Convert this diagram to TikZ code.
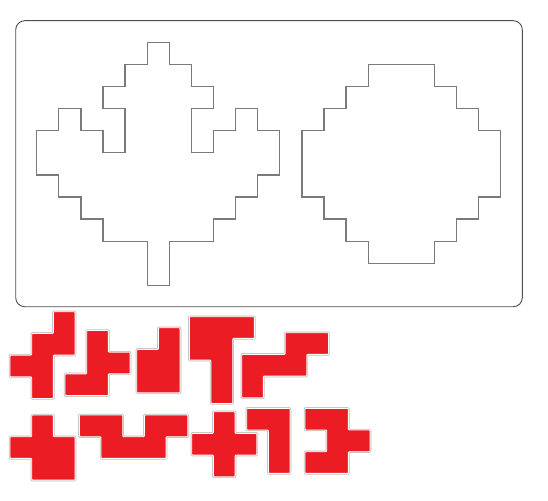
\documentclass[tikz,border=0pt]{standalone}
\usepackage{xcolor}
\usepackage{tikz}

\definecolor{pieceRed}{HTML}{EC1C24}
\definecolor{cutGray}{HTML}{7A7A7A}

\begin{document}
\begin{tikzpicture}[x=1pt, y=-1pt,
        board/.style={draw=black!70, line width=0.9pt, rounded corners=9pt},
        cutline/.style={draw=cutGray, line width=1.3pt},
        piece/.style={fill=pieceRed, draw=white, line width=0.9pt, rounded corners=0.8pt,
            preaction={draw=black!25, line width=2.4pt, rounded corners=0.8pt}}]
    \useasboundingbox (0,0) rectangle (548,500);

    % board
    \draw[board] (15.7,20.7) rectangle (522.3,306.7);

    % leaf and round shape, on a grid of 22.1
    \begin{scope}[shift={(36.7,42.3)}, x=22.1pt, y=-22.1pt]
        \draw[cutline] (5,0) -- (6,0) -- (6,1) -- (7,1) -- (7,2) -- (8,2) -- (8,3) -- (7,3)
            -- (7,5) -- (8,5) -- (8,4) -- (9,4) -- (9,3) -- (10,3) -- (10,4) -- (11,4)
            -- (11,6) -- (10,6) -- (10,7) -- (9,7) -- (9,8) -- (8,8) -- (8,9) -- (6,9)
            -- (6,11) -- (5,11) -- (5,9) -- (3,9) -- (3,8) -- (2,8) -- (2,7) -- (1,7)
            -- (1,6) -- (0,6) -- (0,4) -- (1,4) -- (1,3) -- (2,3) -- (2,4) -- (3,4)
            -- (3,5) -- (4,5) -- (4,3) -- (3,3) -- (3,2) -- (4,2) -- (4,1) -- (5,1) -- cycle;
        \draw[cutline] (15,1) -- (18,1) -- (18,2) -- (19,2) -- (19,3) -- (20,3) -- (20,4)
            -- (21,4) -- (21,7) -- (20,7) -- (20,8) -- (19,8) -- (19,9) -- (18,9) -- (18,10)
            -- (15,10) -- (15,9) -- (14,9) -- (14,8) -- (13,8) -- (13,7) -- (12,7) -- (12,4)
            -- (13,4) -- (13,3) -- (14,3) -- (14,2) -- (15,2) -- cycle;
    \end{scope}

    % pieces, top row
    \begin{scope}[shift={(10,311.7)}, x=21.7pt, y=-21.7pt]
        \draw[piece] (2,0) -- (3,0) -- (3,2) -- (2,2) -- (2,4) -- (1,4) -- (1,3) -- (0,3)
            -- (0,2) -- (1,2) -- (1,1) -- (2,1) -- cycle;
    \end{scope}
    \begin{scope}[shift={(65,330.5)}, x=21.7pt, y=-21.7pt]
        \draw[piece] (1,0) -- (2,0) -- (2,1) -- (3,1) -- (3,2) -- (2,2) -- (2,3) -- (0,3)
            -- (0,2) -- (1,2) -- cycle;
    \end{scope}
    \begin{scope}[shift={(136.7,327.7)}, x=21.7pt, y=-21.7pt]
        \draw[piece] (1,0) -- (2,0) -- (2,3) -- (0,3) -- (0,1) -- (1,1) -- cycle;
    \end{scope}
    \begin{scope}[shift={(189.3,316.7)}, x=21.7pt, y=-21.7pt]
        \draw[piece] (0,0) -- (3,0) -- (3,1) -- (2,1) -- (2,4) -- (1,4) -- (1,2) -- (0,2) -- cycle;
    \end{scope}
    \begin{scope}[shift={(241.7,332.7)}, x=21.7pt, y=-21.7pt]
        \draw[piece] (2,0) -- (4,0) -- (4,1) -- (3,1) -- (3,2) -- (1,2) -- (1,3) -- (0,3)
            -- (0,1) -- (2,1) -- cycle;
    \end{scope}

    % pieces, bottom row
    \begin{scope}[shift={(10,415)}, x=21.7pt, y=-21.7pt]
        \draw[piece] (1,0) -- (2,0) -- (2,1) -- (3,1) -- (3,3) -- (1,3) -- (1,2) -- (0,2)
            -- (0,1) -- (1,1) -- cycle;
    \end{scope}
    \begin{scope}[shift={(79.3,415)}, x=21.7pt, y=-21.7pt]
        \draw[piece] (0,0) -- (2,0) -- (2,1) -- (3,1) -- (3,0) -- (5,0) -- (5,1) -- (4,1)
            -- (4,2) -- (1,2) -- (1,1) -- (0,1) -- cycle;
    \end{scope}
    \begin{scope}[shift={(191.7,411.7)}, x=21.7pt, y=-21.7pt]
        \draw[piece] (1,0) -- (2,0) -- (2,1) -- (3,1) -- (3,2) -- (2,2) -- (2,3) -- (1,3)
            -- (1,2) -- (0,2) -- (0,1) -- (1,1) -- cycle;
    \end{scope}
    \begin{scope}[shift={(246.7,408.3)}, x=21.7pt, y=-21.7pt]
        \draw[piece] (0,0) -- (2,0) -- (2,3) -- (1,3) -- (1,1) -- (0,1) -- cycle;
    \end{scope}
    \begin{scope}[shift={(305,408.3)}, x=21.7pt, y=-21.7pt]
        \draw[piece] (0,0) -- (2,0) -- (2,1) -- (3,1) -- (3,2) -- (2,2) -- (2,3) -- (0,3)
            -- (0,2) -- (1,2) -- (1,1) -- (0,1) -- cycle;
    \end{scope}
\end{tikzpicture}
\end{document}
